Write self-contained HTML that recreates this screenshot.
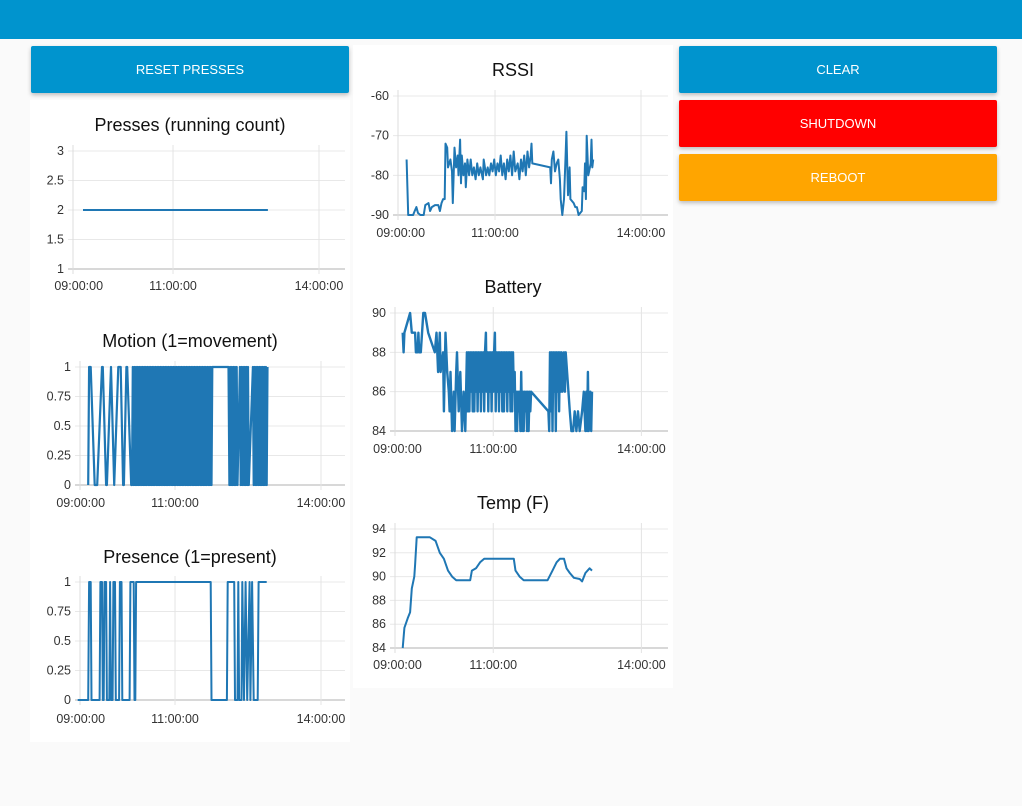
<!DOCTYPE html>
<html><head><meta charset="utf-8">
<style>
body{margin:0;width:1022px;height:806px;background:#fafafa;font-family:"Liberation Sans",sans-serif;position:relative;overflow:hidden}
.hdr{position:absolute;left:0;top:0;width:1022px;height:39px;background:#0094ce}
.card{position:absolute;background:#fff}
.btn{position:absolute;color:#fff;font-size:13px;display:flex;align-items:center;justify-content:center;border-radius:2px;box-shadow:0 2px 4px rgba(0,0,0,.25)}
svg{position:absolute;left:0;top:0}
</style></head><body>
<div class="hdr"></div>
<div class="card" style="left:30px;top:100px;width:320px;height:642px"></div>
<div class="card" style="left:353px;top:45px;width:320px;height:643px"></div>
<div class="btn" style="left:31px;top:46px;width:318px;height:47px;background:#0094ce">RESET PRESSES</div>
<div class="btn" style="left:679px;top:46px;width:318px;height:47px;background:#0094ce">CLEAR</div>
<div class="btn" style="left:679px;top:100px;width:318px;height:47px;background:#ff0000">SHUTDOWN</div>
<div class="btn" style="left:679px;top:154px;width:318px;height:47px;background:#ffa500">REBOOT</div>
<svg id="s" width="1022" height="806"></svg>
<script>
// x values are minutes after 09:00
const xTickMinutes=[0,120,300];
const xTickLabels=["09:00:00","11:00:00","14:00:00"];
const pressesT=[9,237];
const pressesV=[2,2];
const motionT=[13,14,16,21,24,30,31,35,36,41,45,50,53,56,57,60,61,66,67,
68,69,70,71,72,73,74,75,76,77,78,79,80,81,82,83,84,85,86,87,88,89,90,91,92,93,94,95,96,97,98,99,100,101,102,103,104,105,106,107,108,109,110,111,112,113,114,115,116,117,118,119,120,121,122,123,124,125,126,127,128,129,130,131,132,133,134,135,136,137,138,139,140,141,142,143,144,145,146,147,148,149,150,151,152,153,154,155,156,157,158,159,160,161,162,163,164,165,166,
186,187,188,189,190,191,192,193,194,195,196,197,
200,201,202,203,204,205,206,207,208,209,210,211,
216,217,218,219,220,221,222,223,224,225,226,227,228,229,230,231,232,233,234];
const motionV=[0,1,1,0,0,1,1,0,0,1,0,1,1,0,0,1,1,0,0,
1,0,1,0,1,0,1,0,1,0,1,0,1,0,1,0,1,0,1,0,
1,0,1,0,1,0,1,0,1,0,1,0,1,0,1,0,1,0,1,0,
1,0,1,0,1,0,1,0,1,0,1,0,1,0,1,0,1,0,1,0,
1,0,1,0,1,0,1,0,1,0,1,0,1,0,1,0,1,0,1,0,
1,0,1,0,1,0,1,0,1,0,1,0,1,0,1,0,1,0,1,
1,0,1,0,1,0,1,0,1,0,1,0,
1,0,1,0,1,0,1,0,1,0,1,0,
1,0,1,0,1,0,1,0,1,0,1,0,1,0,1,0,1,0,1];
const presenceT=[0,13,14,16,17,27,28,30,31,32,33,35,36,39,40,41,43,44,46,47,51,52,54,55,64,65,69,70,71,72,164,165,184,185,193,194,197,198,199,202,203,205,207,209,212,213,215,217,222,223,233];
const presenceV=[0,0,1,1,0,0,1,1,0,0,1,1,0,0,1,0,0,1,1,0,0,1,1,0,0,1,1,0,0,1,1,0,0,1,1,0,0,1,0,0,1,0,1,0,1,0,1,0,0,1,1];
const rssiT=[11,12,13,19,21,23,25,28,32,34,38,40,42,46,50,52,54,56,58,59,61,62,65,67,68,70,72,74,75,77,78,79,81,83,84,86,88,90,92,94,96,98,100,102,105,106,109,111,113,115,117,119,121,123,125,127,129,131,133,135,137,139,141,143,145,148,150,152,154,156,158,160,162,164,165,166,188,189,190,192,194,196,198,200,201,203,205,207,208,210,212,213,217,219,221,223,227,228,230,231,232,233,235,236,238,239,240,241];
const rssiV=[-76,-83,-90,-90,-89,-88,-89.5,-90,-90,-87.5,-87,-89,-88,-87.5,-87.5,-89,-87,-86,-86,-72,-73,-78,-76,-79,-87,-73,-78,-75,-80,-71,-82,-75,-80,-77,-83,-76,-80,-76,-80,-78,-81,-77,-80,-78,-81,-76,-80,-78,-80,-77,-79,-76,-80,-77,-79,-75,-80,-77,-81,-76,-79,-75,-80,-74,-79,-77,-81,-76,-79,-75,-80,-74,-78,-75,-72,-77,-78,-82,-76,-74,-79,-77,-76,-81,-86,-90,-86,-75,-69,-85,-78,-86,-87,-88,-88,-90,-89,-83,-84,-77,-86,-70,-80,-79,-77,-71,-78,-76];
const batteryT=[10,11,12,19,21,25,26,28,29,30,32,35,37,41,49,51,53,55,56,59,60,62,64,66,67,68,70,72,73,75,76,78,80,82,84,86,88,89,90,91,92,93,94,95,96,97,98,99,100,101,102,103,104,105,106,107,108,109,110,111,112,113,114,115,116,117,118,119,120,121,122,123,124,125,126,127,128,129,130,131,132,133,134,135,136,137,138,139,140,141,142,143,144,145,146,147,148,149,150,151,152,153,154,155,156,157,158,159,160,161,162,163,164,165,166,187,188,189,190,191,192,193,194,195,196,197,198,199,200,201,202,203,204,205,206,207,208,213,215,217,219,221,223,225,228,230,232,233,234,235,236,238,239,240];
const batteryV=[89,88,89,90,89,89,88,88,89,88,88,90,90,89,88,89,87,89,87,88,85,89,87,86,85,87,84,86,84,87,88,85,87,84,86,84,88,85,88,85,88,86,88,85,88,85,88,86,88,85,88,86,88,85,88,86,88,85,88,89,86,88,85,88,86,88,85,88,86,88,89,85,88,86,88,85,88,86,88,85,88,85,88,86,88,85,88,86,88,85,88,85,88,86,87,84,86,84,86,85,86,84,87,84,86,84,86,85,86,84,86,84,86,85,86,85,84,88,85,88,84,88,86,88,84,88,86,88,85,88,86,88,86,87,88,86,88,85,84,84,85,84,85,84,85,86,84,86,84,87,84,86,84,86,84];
const tempT=[10,12,16,19,21,24,25,27,43,50,55,60,65,70,75,92,94,99,104,109,145,147,152,157,186,192,197,201,206,209,213,218,225,228,232,237,240];
const tempV=[84,85.7,86.5,87,89,90,91,93.3,93.3,93,92,91.5,90.5,90,89.7,89.7,90.5,90.7,91.2,91.5,91.5,90.5,90,89.7,89.7,90.5,91.2,91.5,91.5,90.7,90.3,89.9,89.8,89.6,90.3,90.7,90.5];
const pressesTicks=[3,2.5,2,1.5,1];
const motionTicks=[1,0.75,0.5,0.25,0];
const presenceTicks=[1,0.75,0.5,0.25,0];
const rssiTicks=[-60,-70,-80,-90];
const batteryTicks=[90,88,86,84];
const tempTicks=[94,92,90,88,86,84];

const S=document.getElementById('s');
const NS='http://www.w3.org/2000/svg';
function mk(tag,attrs,parent){const e=document.createElementNS(NS,tag);for(const k in attrs)e.setAttribute(k,attrs[k]);(parent||S).appendChild(e);return e;}

function chart(name,title,titleX,titleY,sp,ticks,T,V,sw){
  const g=mk('g',{});
  
  
  const y=v=>sp.yb+(v-sp.ymin)*(sp.yt-sp.yb)/(sp.ymax-sp.ymin);
  const x=m=>sp.x9+m*sp.k;
  const t=mk('text',{x:titleX,y:titleY,'text-anchor':'middle','font-size':18,fill:'#111','font-family':'"Liberation Sans",sans-serif'},g);
  t.textContent=title;
  
  
  const top=sp.yt-6;
  ticks.forEach(v=>{
    const yy=y(v);
    const l=mk('line',{x1:sp.ax-5,x2:sp.r,y1:yy,y2:yy,stroke:v===sp.ymin?'#d8d8d8':'#e8e8e8','stroke-width':v===sp.ymin?2:1},g);
    
    
    const tx=mk('text',{x:sp.ax-9,y:yy+4,'text-anchor':'end','font-size':12.5,fill:'#333'},g);
    tx.textContent=String(v);
    
    
  });
  const al=mk('line',{x1:sp.ax,x2:sp.ax,y1:top,y2:sp.yb+5,stroke:'#dcdcdc','stroke-width':1},g);
  
  
  xTickMinutes.forEach((m,i)=>{
    const xx=x(m);
    if(i>0){const l=mk('line',{x1:xx,x2:xx,y1:top,y2:sp.yb+5,stroke:'#e4e4e4','stroke-width':1},g);
      
      }
    const tx=mk('text',{x:i===0?xx+3:xx,y:sp.ly,'text-anchor':'middle','font-size':12.5,fill:'#333'},g);
    tx.textContent=xTickLabels[i];
    
    
  });
  const pts=T.map((m,i)=>x(m).toFixed(1)+','+y(V[i]).toFixed(1)).join(' ');
  const p=mk('polyline',{points:pts,fill:'none',stroke:'#1f77b4','stroke-width':sw||2,'stroke-linejoin':'round'},g);
  
  
}
chart('presses','Presses (running count)',190,131,{ax:73,r:345,yt:151,yb:269,ymin:1,ymax:3,x9:75.7,k:0.811,ly:290},pressesTicks,pressesT,pressesV);
chart('motion','Motion (1=movement)',190,347,{ax:80,r:345,yt:367,yb:485,ymin:0,ymax:1,x9:77.7,k:0.811,ly:507},motionTicks,motionT,motionV,2.2);
chart('presence','Presence (1=present)',190,563,{ax:80,r:345,yt:582,yb:700,ymin:0,ymax:1,x9:77.7,k:0.811,ly:723},presenceTicks,presenceT,presenceV);
chart('rssi','RSSI',513,76,{ax:398,r:668,yt:96,yb:215,ymin:-90,ymax:-60,x9:397.7,k:0.811,ly:237},rssiTicks,rssiT,rssiV);
chart('battery','Battery',513,293,{ax:395,r:668,yt:313,yb:431,ymin:84,ymax:90,x9:394.5,k:0.823,ly:453},batteryTicks,batteryT,batteryV,2.4);
chart('temp','Temp (F)',513,509,{ax:395,r:668,yt:529,yb:648,ymin:84,ymax:94,x9:394.5,k:0.823,ly:669},tempTicks,tempT,tempV);
</script>
</body></html>
